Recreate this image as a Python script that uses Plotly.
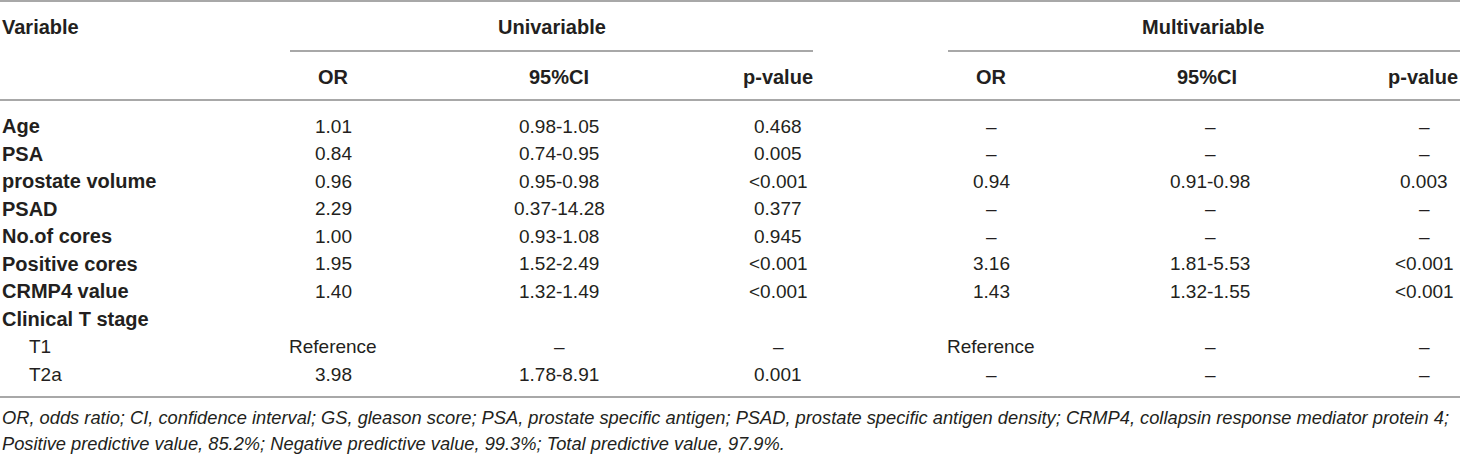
import plotly.graph_objects as go

variables = ["Age", "PSA", "prostate volume", "PSAD", "No.of cores", "Positive cores",
             "CRMP4 value", "Clinical T stage", "T1", "T2a"]
indented = ["T1", "T2a"]

uni_or = ["1.01", "0.84", "0.96", "2.29", "1.00", "1.95", "1.40", "", "Reference", "3.98"]
uni_ci = ["0.98-1.05", "0.74-0.95", "0.95-0.98", "0.37-14.28", "0.93-1.08", "1.52-2.49",
          "1.32-1.49", "", "–", "1.78-8.91"]
uni_p = ["0.468", "0.005", "<0.001", "0.377", "0.945", "<0.001", "<0.001", "", "–", "0.001"]

multi_or = ["–", "–", "0.94", "–", "–", "3.16", "1.43", "", "Reference", "–"]
multi_ci = ["–", "–", "0.91-0.98", "–", "–", "1.81-5.53", "1.32-1.55", "", "–", "–"]
multi_p = ["–", "–", "0.003", "–", "–", "<0.001", "<0.001", "", "–", "–"]

sub_headers = ["OR", "95%CI", "p-value", "OR", "95%CI", "p-value"]
groups = ["Univariable", "Multivariable"]

footnotes = [
    "OR, odds ratio; CI, confidence interval; GS, gleason score; PSA, prostate specific antigen; "
    "PSAD, prostate specific antigen density; CRMP4, collapsin response mediator protein 4;",
    "Positive predictive value, 85.2%; Negative predictive value, 99.3%; Total predictive value, 97.9%.",
]

W, H = 1460, 454
TXT = "#231f20"
LINE = "#a8a8a8"
FONT = "Liberation Sans"
FS = 19      # regular cells
FS_B = 20    # bold labels / headers (reference bold face runs wider)

col_x = [333, 559, 778, 991, 1210, 1424]
head_x = [333, 559, 778, 991, 1207, 1423]
group_x = [552, 1203]
row_y0, row_dy = 126, 27.56

fig = go.Figure()
ann = []


def txt(x, y, s, anchor="center", bold=False, italic=False, size=None):
    if size is None:
        size = FS_B if bold else FS
    if bold:
        s = "<b>" + s + "</b>"
    if italic:
        s = "<i>" + s + "</i>"
    ann.append(dict(x=x, y=y, text=s, xref="x", yref="y", showarrow=False,
                    xanchor=anchor, yanchor="middle",
                    font=dict(family=FONT, size=size, color=TXT)))


# header
txt(0, 27, "Variable", anchor="left", bold=True)
for gx, g in zip(group_x, groups):
    txt(gx, 27, g, bold=True)
for hx, h in zip(head_x, sub_headers):
    txt(hx, 77, h, bold=True)

# body
columns = [uni_or, uni_ci, uni_p, multi_or, multi_ci, multi_p]
for i, v in enumerate(variables):
    y = row_y0 + i * row_dy
    if v in indented:
        txt(27, y, v, anchor="left")
    else:
        txt(0, y, v, anchor="left", bold=True)
    for cx, col in zip(col_x, columns):
        if col[i]:
            txt(cx, y, col[i])

# footnotes
txt(0, 417, footnotes[0], anchor="left", italic=True, size=18.3)
txt(0, 443, footnotes[1], anchor="left", italic=True, size=18.3)

shapes = []
for x0, x1, y in [(0, W, 1), (290, 813, 51), (948, W, 51), (0, W, 100), (0, W, 397)]:
    shapes.append(dict(type="line", xref="x", yref="y", x0=x0, x1=x1, y0=y, y1=y,
                       line=dict(color=LINE, width=2)))

fig.update_layout(
    width=W, height=H,
    margin=dict(l=0, r=0, t=0, b=0),
    paper_bgcolor="white", plot_bgcolor="white",
    xaxis=dict(range=[0, W], visible=False, fixedrange=True),
    yaxis=dict(range=[H, 0], visible=False, fixedrange=True),
    annotations=ann, shapes=shapes, showlegend=False,
)

# the page body has a default 8px margin, drop it so the table fills the window
fig.write_html("out.html", config={"displayModeBar": False},
               post_script="document.body.style.margin='0';")
